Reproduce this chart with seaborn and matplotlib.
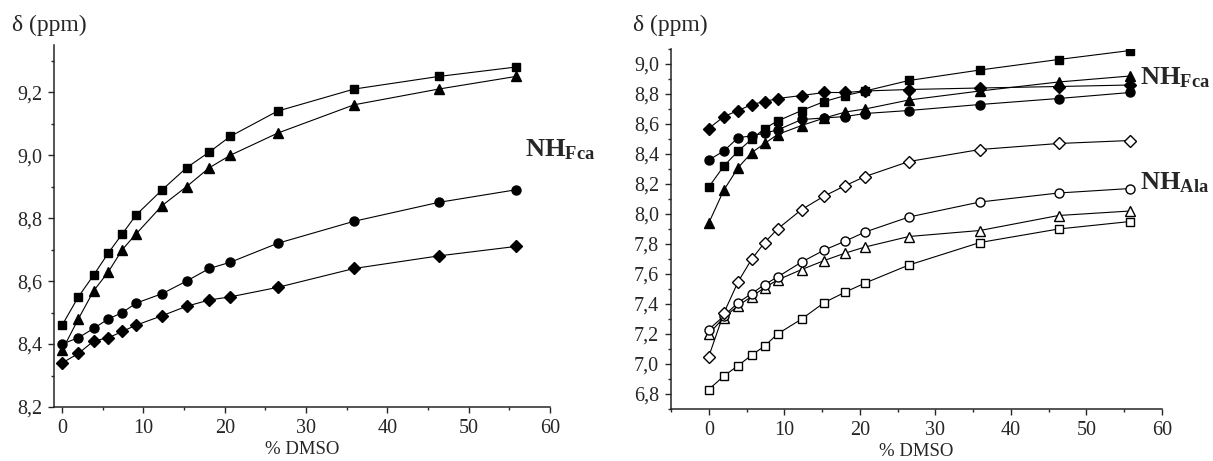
import matplotlib
matplotlib.use('Agg')
import matplotlib.pyplot as plt
import seaborn as sns
from matplotlib.ticker import MultipleLocator, FuncFormatter

# % DMSO values (shared by all series)
dmso = [0, 2, 3.9, 5.7, 7.4, 9.1, 12.3, 15.3, 18.1, 20.7, 26.5, 35.9, 46.3, 55.8]

# left panel: NH Fca shifts
left_square = [8.46, 8.55, 8.62, 8.69, 8.75, 8.81, 8.89, 8.96, 9.01, 9.06, 9.14, 9.21, 9.25, 9.28]
left_triangle = [8.38, 8.48, 8.57, 8.63, 8.70, 8.75, 8.84, 8.90, 8.96, 9.00, 9.07, 9.16, 9.21, 9.25]
left_circle = [8.40, 8.42, 8.45, 8.48, 8.50, 8.53, 8.56, 8.60, 8.64, 8.66, 8.72, 8.79, 8.85, 8.89]
left_diamond = [8.34, 8.37, 8.41, 8.42, 8.44, 8.46, 8.49, 8.52, 8.54, 8.55, 8.58, 8.64, 8.68, 8.71]

# right panel: NH Fca (filled) and NH Ala (open)
fca_diamond = [8.57, 8.65, 8.69, 8.73, 8.75, 8.77, 8.79, 8.81, 8.81, 8.82, 8.83, 8.84, 8.85, 8.86]
fca_circle = [8.36, 8.42, 8.51, 8.52, 8.54, 8.56, 8.63, 8.64, 8.65, 8.67, 8.69, 8.73, 8.77, 8.81]
fca_square = [8.18, 8.32, 8.42, 8.50, 8.57, 8.62, 8.69, 8.75, 8.79, 8.82, 8.89, 8.96, 9.03, 9.09]
fca_triangle = [7.94, 8.16, 8.31, 8.41, 8.47, 8.53, 8.59, 8.64, 8.68, 8.70, 8.76, 8.82, 8.88, 8.92]
ala_diamond = [7.05, 7.34, 7.55, 7.70, 7.81, 7.90, 8.03, 8.12, 8.19, 8.25, 8.35, 8.43, 8.47, 8.49]
ala_circle = [7.23, 7.32, 7.41, 7.47, 7.53, 7.58, 7.68, 7.76, 7.82, 7.88, 7.98, 8.08, 8.14, 8.17]
ala_triangle = [7.20, 7.31, 7.39, 7.45, 7.51, 7.56, 7.63, 7.69, 7.74, 7.78, 7.85, 7.89, 7.99, 8.02]
ala_square = [6.83, 6.92, 6.99, 7.06, 7.12, 7.20, 7.30, 7.41, 7.48, 7.54, 7.66, 7.81, 7.90, 7.95]

sns.set_style('ticks')
plt.rcParams['font.family'] = ['Liberation Serif', 'DejaVu Serif']
plt.rcParams['mathtext.fontset'] = 'custom'
plt.rcParams['mathtext.rm'] = 'Liberation Serif'
plt.rcParams['mathtext.bf'] = 'Liberation Serif:bold'

sizes = {'s': 6, '^': 7, 'o': 6.5, 'D': 6}

def draw(ax, y, marker, filled):
    sns.lineplot(x=dmso, y=y, ax=ax, color='black', lw=0.8, marker=marker,
                 ms=sizes[marker], mec='black', mew=1.0,
                 mfc='black' if filled else 'white')

fig = plt.figure(figsize=(12.13, 4.61), dpi=100)
ax1 = fig.add_axes([54 / 1213, 1 - 407 / 461, 496 / 1213, 362 / 461])
ax2 = fig.add_axes([671 / 1213, 1 - 409 / 461, 491 / 1213, 360 / 461])

for y, m in [(left_square, 's'), (left_triangle, '^'), (left_circle, 'o'), (left_diamond, 'D')]:
    draw(ax1, y, m, True)

for y, m in [(ala_square, 's'), (ala_triangle, '^'), (ala_circle, 'o'), (ala_diamond, 'D')]:
    draw(ax2, y, m, False)
for y, m in [(fca_diamond, 'D'), (fca_circle, 'o'), (fca_square, 's'), (fca_triangle, '^')]:
    draw(ax2, y, m, True)

comma = FuncFormatter(lambda v, p: f'{v:.1f}'.replace('.', ','))

ax1.set_xlim(-1, 60)
ax1.set_ylim(8.2, 9.35)
ax1.yaxis.set_major_locator(MultipleLocator(0.2))
ax2.set_xlim(-5, 60)
ax2.set_ylim(6.7, 9.1)
ax2.yaxis.set_major_locator(MultipleLocator(0.2))

for ax in (ax1, ax2):
    sns.despine(ax=ax)
    ax.xaxis.set_major_locator(MultipleLocator(10))
    ax.xaxis.set_minor_locator(MultipleLocator(5))
    ax.yaxis.set_minor_locator(MultipleLocator(0.1))
    ax.yaxis.set_major_formatter(comma)
    ax.tick_params(which='major', direction='out', length=4.5, width=1.0, labelsize=14.5, pad=4)
    ax.tick_params(which='minor', direction='out', length=2.5, width=1.0)
    for s in ('left', 'bottom'):
        ax.spines[s].set_linewidth(1.1)
    ax.set_xlabel('% DMSO', fontsize=13.5, labelpad=2)
    ax.set_ylabel('')

fig.text(12 / 1213, 1 - 25 / 461, 'δ (ppm)', fontsize=17, va='center', ha='left')
fig.text(633 / 1213, 1 - 25 / 461, 'δ (ppm)', fontsize=17, va='center', ha='left')

fig.text(525 / 1213, 1 - 150 / 461, r'$\mathbf{NH_{Fca}}$', fontsize=19, va='center', ha='left')
fig.text(1140 / 1213, 1 - 78 / 461, r'$\mathbf{NH_{Fca}}$', fontsize=19, va='center', ha='left')
fig.text(1140 / 1213, 1 - 183 / 461, r'$\mathbf{NH_{Ala}}$', fontsize=19, va='center', ha='left')

fig.savefig('out.png', dpi=100)
